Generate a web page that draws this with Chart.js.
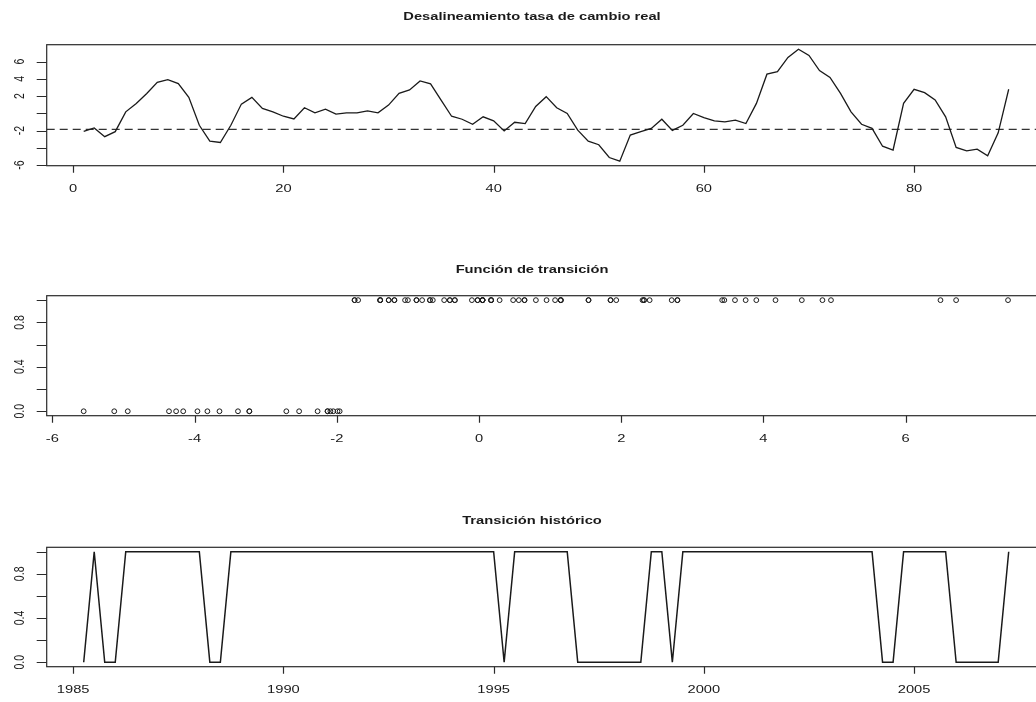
<!DOCTYPE html>
<html lang="es">
<head>
<meta charset="utf-8">
<title>Desalineamiento tasa de cambio real</title>
<script src="https://cdn.jsdelivr.net/npm/chart.js@4.4.1/dist/chart.umd.min.js"></script>
<style>
    html, body { margin: 0; padding: 0; background: #fff; overflow: hidden; }
    #wrap { position: relative; width: 1036px; height: 702px; overflow: hidden; }
    canvas { position: absolute; left: 0; }
</style>
</head>
<body>
<div id="wrap">
    <canvas id="panelSerie" width="1050" height="234" style="top:0"></canvas>
    <canvas id="panelFuncion" width="1050" height="234" style="top:234px"></canvas>
    <canvas id="panelHistorico" width="1050" height="234" style="top:468px"></canvas>
</div>
<script>
// Datos (trimestral, 1985 T2 - 2007 T2)

// desalineamiento de la tasa de cambio real, periodos 1..89
const desalineamiento = [
    -2.09, -1.70, -2.71, -2.13, 0.17, 1.15, 2.30, 3.60, 3.90, 3.45,
    1.85, -1.39, -3.23, -3.39, -1.39, 1.07, 1.85, 0.56, 0.17, -0.34,
    -0.65, 0.64, 0.05, 0.48, -0.10, 0.05, 0.05, 0.29, 0.05, 0.95,
    2.32, 2.71, 3.75, 3.42, 1.54, -0.34, -0.69, -1.27, -0.41, -0.88,
    -2.05, -1.04, -1.19, 0.80, 1.93, 0.64, -0.02, -1.96, -3.23, -3.65,
    -5.13, -5.56, -2.53, -2.13, -1.75, -0.69, -1.99, -1.39, -0.02, -0.49,
    -0.88, -1.00, -0.80, -1.19, 1.15, 4.54, 4.83, 6.49, 7.44, 6.71,
    4.95, 4.17, 2.32, 0.17, -1.27, -1.75, -3.82, -4.26, 1.15, 2.79,
    2.40, 1.54, -0.41, -3.96, -4.36, -4.16, -4.94, -2.27, 2.79
];

// valor de la funcion de transicion en cada periodo
const transicion = [
    0, 1, 0, 0, 1, 1, 1, 1, 1, 1,
    1, 1, 0, 0, 1, 1, 1, 1, 1, 1,
    1, 1, 1, 1, 1, 1, 1, 1, 1, 1,
    1, 1, 1, 1, 1, 1, 1, 1, 1, 1,
    0, 1, 1, 1, 1, 1, 1, 0, 0, 0,
    0, 0, 0, 0, 1, 1, 0, 1, 1, 1,
    1, 1, 1, 1, 1, 1, 1, 1, 1, 1,
    1, 1, 1, 1, 1, 1, 0, 0, 1, 1,
    1, 1, 1, 0, 0, 0, 0, 0, 1
];

const umbral = -1.86;
const anioInicio = 1985;
const frecuencia = 4;

// ticks y etiquetas de los ejes
const ticksSerieX = [0, 20, 40, 60, 80];
const ticksSerieY = [-6, -4, -2, 0, 2, 4, 6];
const etiquetasSerieY = ['-6', '', '-2', '', '2', '4', '6'];
const ticksFuncionX = [-6, -4, -2, 0, 2, 4, 6];
const ticksProbY = [0, 0.2, 0.4, 0.6, 0.8, 1];
const etiquetasProbY = ['0.0', '', '0.4', '', '0.8', ''];
const ticksHistX = [1985, 1990, 1995, 2000, 2005];

const titulos = ['Desalineamiento tasa de cambio real', 'Función de transición', 'Transición histórico'];

(function () {
    'use strict';

    const FONT = '"Liberation Sans", Arial, sans-serif';
    const STRETCH = 1.4;      // the original picture is stretched horizontally
    const INK = '#1a1a1a';
    const TITLE_X = 532;

    /**
     * R style axis limits: data range plus 4% on each side.
     */
    function rangoR(values) {
        const min = Math.min.apply(null, values);
        const max = Math.max.apply(null, values);
        const pad = (max - min) * 0.04;
        return { min: min - pad, max: max + pad };
    }

    function drawText(ctx, text, x, y, bold, rotate) {
        ctx.save();
        ctx.translate(x, y);
        ctx.scale(STRETCH, 1);
        if (rotate) ctx.rotate(-Math.PI / 2);
        ctx.font = (bold ? 'bold ' : '') + '10.5px ' + FONT;
        ctx.fillStyle = INK;
        ctx.textAlign = 'center';
        ctx.textBaseline = 'middle';
        ctx.fillText(text, 0, 0);
        ctx.restore();
    }

    /**
     * Plugin that draws the R base graphics frame: box, ticks, labels and title.
     */
    function marcoR(opts) {
        return {
            id: 'marcoR',
            afterDraw: function (chart) {
                const ctx = chart.ctx;
                const area = chart.chartArea;
                const xs = chart.scales.x;
                const ys = chart.scales.y;

                ctx.save();
                ctx.strokeStyle = '#2b2b2b';
                ctx.lineWidth = 1.2;
                ctx.strokeRect(area.left, area.top, area.right - area.left, area.bottom - area.top);

                ctx.beginPath();
                opts.ticksX.forEach(function (v) {
                    const px = Math.round(xs.getPixelForValue(v)) + 0.5;
                    ctx.moveTo(px, area.bottom);
                    ctx.lineTo(px, area.bottom + 7);
                });
                opts.ticksY.forEach(function (v) {
                    const py = Math.round(ys.getPixelForValue(v)) + 0.5;
                    ctx.moveTo(area.left, py);
                    ctx.lineTo(area.left - 10, py);
                });
                ctx.stroke();
                ctx.restore();

                opts.ticksX.forEach(function (v) {
                    drawText(ctx, String(v), xs.getPixelForValue(v), area.bottom + 23, false, false);
                });
                opts.ticksY.forEach(function (v, i) {
                    const label = opts.labelsY[i];
                    if (label) drawText(ctx, label, 20, ys.getPixelForValue(v), false, true);
                });
                drawText(ctx, opts.title, TITLE_X, opts.titleY, true, false);
            }
        };
    }

    function baseOptions(xr, yr, padding) {
        return {
            responsive: false,
            animation: false,
            events: [],
            layout: { padding: padding },
            plugins: { legend: { display: false }, tooltip: { enabled: false } },
            scales: {
                x: { type: 'linear', min: xr.min, max: xr.max, display: false },
                y: { type: 'linear', min: yr.min, max: yr.max, display: false }
            }
        };
    }

    function init() {
        const periodos = desalineamiento.map(function (_, i) { return i + 1; });
        const fechas = periodos.map(function (p) { return anioInicio + p / frecuencia; });

        const rangoSerie = rangoR(desalineamiento);
        const rangoPeriodos = rangoR(periodos);
        const rangoFechas = rangoR(fechas);
        const rangoProb = rangoR(transicion);

        // Panel 1: series with the threshold
        new Chart(document.getElementById('panelSerie'), {
            type: 'line',
            data: {
                datasets: [
                    {
                        data: periodos.map(function (p, i) { return { x: p, y: desalineamiento[i] }; }),
                        borderColor: INK,
                        borderWidth: 1.3,
                        pointRadius: 0,
                        tension: 0
                    },
                    {
                        data: [{ x: rangoPeriodos.min, y: umbral }, { x: rangoPeriodos.max, y: umbral }],
                        borderColor: '#333',
                        borderWidth: 1.3,
                        borderDash: [8, 5],
                        pointRadius: 0
                    }
                ]
            },
            options: baseOptions(rangoPeriodos, rangoSerie, { left: 46.7, top: 44.7, right: 4.3, bottom: 68.3 }),
            plugins: [marcoR({
                ticksX: ticksSerieX, ticksY: ticksSerieY, labelsY: etiquetasSerieY,
                title: titulos[0], titleY: 17
            })]
        });

        // Panel 2: transition function against the misalignment
        new Chart(document.getElementById('panelFuncion'), {
            type: 'scatter',
            data: {
                datasets: [{
                    data: desalineamiento.map(function (v, i) { return { x: v, y: transicion[i] }; }),
                    pointStyle: 'circle',
                    pointRadius: 2.4,
                    borderWidth: 1,
                    borderColor: INK,
                    backgroundColor: 'rgba(0,0,0,0)'
                }]
            },
            options: baseOptions(rangoSerie, rangoProb, { left: 46.7, top: 61.7, right: 4.3, bottom: 52.3 }),
            plugins: [marcoR({
                ticksX: ticksFuncionX, ticksY: ticksProbY, labelsY: etiquetasProbY,
                title: titulos[1], titleY: 36
            })]
        });

        // Panel 3: transition over time
        new Chart(document.getElementById('panelHistorico'), {
            type: 'line',
            data: {
                datasets: [{
                    data: fechas.map(function (f, i) { return { x: f, y: transicion[i] }; }),
                    borderColor: INK,
                    borderWidth: 1.5,
                    pointRadius: 0,
                    tension: 0
                }]
            },
            options: baseOptions(rangoFechas, rangoProb, { left: 46.7, top: 79.3, right: 4.3, bottom: 35.3 }),
            plugins: [marcoR({
                ticksX: ticksHistX, ticksY: ticksProbY, labelsY: etiquetasProbY,
                title: titulos[2], titleY: 53
            })]
        });
    }

    if (document.readyState === 'loading') {
        document.addEventListener('DOMContentLoaded', init);
    } else {
        init();
    }
})();
</script>
</body>
</html>
